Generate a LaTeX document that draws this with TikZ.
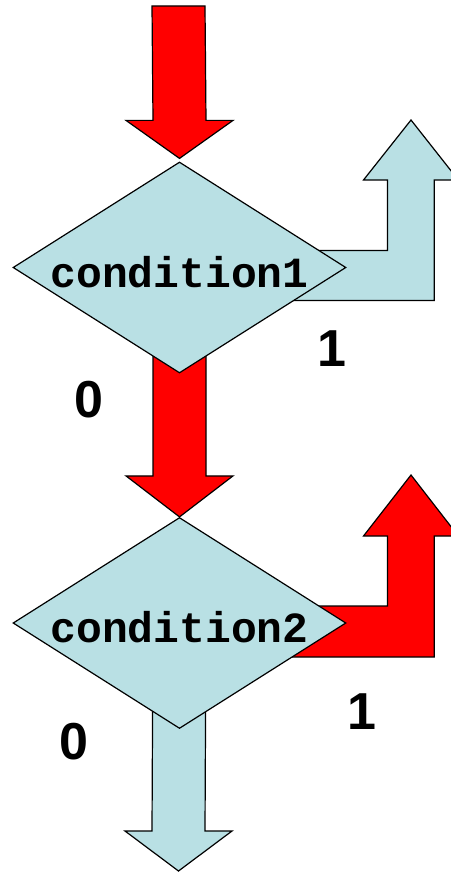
\documentclass[tikz,border=0pt]{standalone}
\usepackage{fontspec}
\usepackage{tikz}
\usetikzlibrary{calc, shapes.geometric}
\newfontfamily\condfont{Liberation Mono}
\newfontfamily\bitfont{Liberation Sans}
\definecolor{branchblue}{RGB}{185,224,228}
\definecolor{branchred}{RGB}{255,0,0}
\tikzset{
	condbox/.style={draw, diamond, aspect=1.58, inner sep=0pt, fill=branchblue, line width=0.6pt,
		minimum width=166.5pt, minimum height=105.5pt, font=\condfont\bfseries\fontsize{21.5}{24}\selectfont},
	redblock/.style={draw, fill=branchred, line width=0.6pt, line join=miter},
	blueblock/.style={draw, fill=branchblue, line width=0.6pt, line join=miter},
	bitlabel/.style={font=\bitfont\bfseries\fontsize{26}{30}\selectfont, inner sep=0pt},
}

\begin{document}
\begin{tikzpicture}[x=0.5pt, y=-0.5pt]
	\useasboundingbox (0,0) rectangle (450,872);
	% flow ends
	\coordinate (in) at (178.5,6);
	\coordinate (out) at (178.5,871);
	\coordinate (exit1) at (411,120);
	\coordinate (exit2) at (411,475);
	\path node[condbox, draw=none, fill=none] (c1) at (179.5,267.5) {}
		node[condbox, draw=none, fill=none] (c2) at (179.5,623) {};
	% arrows behind the tests
	\draw[redblock] ($(in)+(-26.5,0)$) -- ($(c1.north)+(-26.5,-41)$) -- ++(-27,0) -- ($(c1.north)+(0,-3)$)
		-- ++(53.5,-38) -- ++(-27,0) -- ($(in)+(26.5,0)$) -- cycle;
	\draw[redblock] ($(c1.center)+(-26.5,0)$) -- ($(c2.north)+(-26.5,-41)$) -- ++(-27,0) -- (c2.north)
		-- ++(53.5,-41) -- ++(-27,0) -- ($(c1.center)+(26.5,0)$) -- cycle;
	\draw[blueblock] ($(c2.center)+(-26.5,0)$) -- ($(out)+(-26.5,-40)$) -- ++(-27,0) -- (out)
		-- ++(53.5,-40) -- ++(-27,0) -- ($(c2.center)+(26.5,0)$) -- cycle;
	\draw[blueblock] ($(c1.center)+(0,33)$) -| ($(exit1)+(23.3,60)$) -- ++(24,0) -- (exit1)
		-- ++(-47.5,60) -- ++(24,0) |- ($(c1.center)+(0,-17)$) -- cycle;
	\draw[redblock] ($(c2.center)+(0,34)$) -| ($(exit2)+(23.3,61)$) -- ++(24,0) -- (exit2)
		-- ++(-47.5,61) -- ++(24,0) |- ($(c2.center)+(0,-17)$) -- cycle;
	% the tests
	\node[condbox] (test1) at (c1) {\raisebox{-2pt}[\height][0pt]{condition1}};
	\node[condbox] (test2) at (c2) {\raisebox{-2pt}[\height][0pt]{condition2}};
	% branch values
	\node[bitlabel] (one1) at (332,349) {1};
	\node[bitlabel] (zero1) at (89,400) {0};
	\node[bitlabel] (one2) at (362,712) {1};
	\node[bitlabel] (zero2) at (74,742) {0};
\end{tikzpicture}
\end{document}
